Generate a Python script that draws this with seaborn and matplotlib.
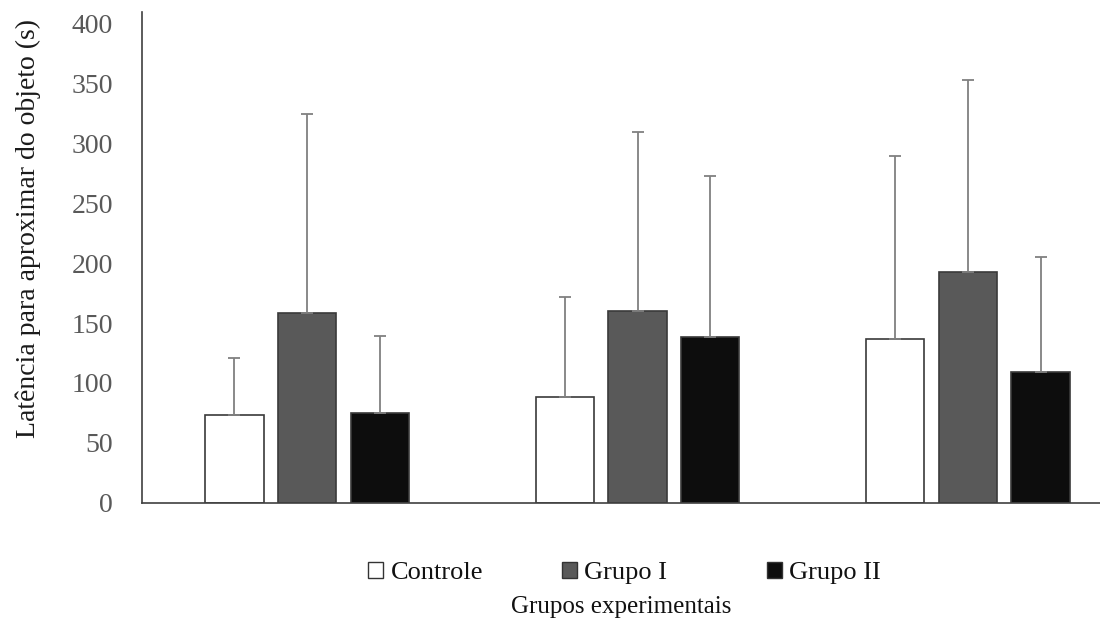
import matplotlib
matplotlib.use("Agg")
import matplotlib.pyplot as plt
from matplotlib.patches import Patch
import numpy as np
import pandas as pd
import seaborn as sns

# Sessions (x groups) and experimental groups (hue)
sessions = ["1", "2", "3"]
groups = ["Controle", "Grupo I", "Grupo II"]

# Mean latency (s) per group, one value per session
controle_mean = [73, 88, 137]
grupo1_mean = [158, 160, 193]
grupo2_mean = [75, 138, 109]

# Standard deviation (upper error bar) per group
controle_sd = [48, 84, 153]
grupo1_sd = [167, 150, 160]
grupo2_sd = [64, 135, 96]

colors = ["#ffffff", "#595959", "#0d0d0d"]
yticks = [0, 50, 100, 150, 200, 250, 300, 350, 400]

means = [controle_mean, grupo1_mean, grupo2_mean]
sds = [controle_sd, grupo1_sd, grupo2_sd]

df = pd.DataFrame({
    "sessao": [s for _ in groups for s in sessions],
    "grupo": [g for g in groups for _ in sessions],
    "latencia": [v for m in means for v in m],
})

sns.set_theme(style="white")
plt.rcParams["font.family"] = ["Liberation Serif", "DejaVu Serif"]

W, H = 1100, 623
fig = plt.figure(figsize=(W / 100, H / 100), dpi=100)
ax = fig.add_axes([142 / W, 1 - 502.5 / H, 958 / W, 490.5 / H])

sns.barplot(data=df, x="sessao", y="latencia", hue="grupo", order=sessions,
            hue_order=groups, palette=colors, width=0.66, dodge=True,
            errorbar=None, edgecolor="#3a3a3a", linewidth=1.2,
            saturation=1, legend=False, ax=ax)

bar_w = 0.177
bar_containers = list(ax.containers)
for gi, cont in enumerate(bar_containers):
    xs = []
    for patch in cont:
        cx = patch.get_x() + patch.get_width() / 2
        patch.set_x(cx - bar_w / 2)
        patch.set_width(bar_w)
        xs.append(cx)
    sd = np.array(sds[gi])
    ax.errorbar(xs, means[gi], yerr=[np.zeros_like(sd), sd], fmt="none",
                ecolor="#808080", elinewidth=1.3, capsize=4, capthick=1.3,
                zorder=1)

ax.set_xlim(-0.5, 2.4)
ax.set_ylim(0, 410)
ax.set_yticks(yticks)
ax.set_yticklabels([str(t) for t in yticks], fontsize=20, color="#595959")
ax.set_xticks([])
ax.tick_params(axis="y", length=0, pad=21)

for side in ["top", "right"]:
    ax.spines[side].set_visible(False)
for side in ["left", "bottom"]:
    ax.spines[side].set_color("#404040")
    ax.spines[side].set_linewidth(1.2)

ax.set_ylabel("Latência para aproximar do objeto (s)", fontsize=20,
              color="#1a1a1a")
ax.yaxis.label.set_va("center")
ax.yaxis.set_label_coords((28 - 142) / 958, (502.5 - 229) / 490.5)

ax.set_xlabel("Grupos experimentais", fontsize=18, color="#111111")
ax.xaxis.label.set_va("baseline")
ax.xaxis.set_label_coords(0.5, (502.5 - 613) / 490.5)

# One legend entry per group, each placed on its own
legend_x = [368, 562, 767]
for c, name, lx in zip(colors, groups, legend_x):
    leg = fig.legend([Patch(facecolor=c, edgecolor="#333333", linewidth=1.0)],
                     [name], loc="center left",
                     bbox_to_anchor=(lx / W, 1 - 573 / H),
                     frameon=False, fontsize=19, borderpad=0,
                     borderaxespad=0, handlelength=0.55, handleheight=0.55,
                     handletextpad=0.3)
    for t in leg.get_texts():
        t.set_color("#111111")

fig.savefig("out.png", dpi=100)
